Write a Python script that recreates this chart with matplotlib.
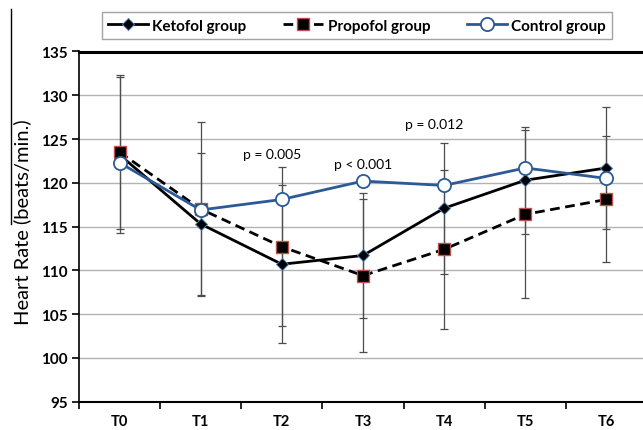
import numpy as np
import matplotlib
matplotlib.use('Agg')
from matplotlib import pyplot as plt
from matplotlib.lines import Line2D

plt.rcParams['font.family'] = ['Lato', 'DejaVu Sans']

# time points
times = ['T0', 'T1', 'T2', 'T3', 'T4', 'T5', 'T6']

# mean heart rate (beats/min.)
ketofol = [123.2, 115.3, 110.7, 111.7, 117.1, 120.3, 121.7]
propofol = [123.5, 117.0, 112.7, 109.4, 112.4, 116.4, 118.1]
control = [122.3, 116.9, 118.1, 120.2, 119.7, 121.7, 120.5]

# standard deviations (error bars)
ketofol_sd = [8.9, 8.1, 9.0, 7.1, 7.5, 6.1, 7.0]
propofol_sd = [8.8, 9.9, 9.1, 8.7, 9.1, 9.6, 7.2]

# p-value notes: (x position as time index, y value, text)
p_notes = [(1.88, 123.3, 'p = 0.005'), (3.0, 122.1, 'p < 0.001'), (3.88, 126.7, 'p = 0.012')]

W, H = 643, 431
fig = plt.figure(figsize=(W / 100, H / 100), dpi=100)
# plot area in pixels: left 79, right 647 (runs past the edge), top 52.5, bottom 402.7
ax = fig.add_axes([79 / W, 1 - 402.7 / H, (647 - 79) / W, (402.7 - 52.5) / H])

x = np.arange(len(times))

# error bars first, under the lines
ax.errorbar(x, ketofol, yerr=ketofol_sd, fmt='none', ecolor='#4d4d4d',
            elinewidth=0.9, capsize=3, capthick=0.9, zorder=2)
ax.errorbar(x, propofol, yerr=propofol_sd, fmt='none', ecolor='#4d4d4d',
            elinewidth=0.9, capsize=3, capthick=0.9, zorder=2)

ax.plot(x, ketofol, color='black', lw=2, marker='D', markersize=6.5,
        markerfacecolor='black', markeredgecolor='#4a7ebb', markeredgewidth=0.7,
        label='Ketofol group', zorder=3)
ax.plot(x, propofol, color='black', lw=2, ls=(0, (3.5, 2)), marker='s', markersize=8,
        markerfacecolor='black', markeredgecolor='#c0504d', markeredgewidth=1,
        label='Propofol group', zorder=4)
ax.plot(x, control, color='#2c5a96', lw=2, marker='o', markersize=9.5,
        markerfacecolor='white', markeredgecolor='#2c5a96', markeredgewidth=1.3,
        label='Control group', zorder=5)

for xi, yi, txt in p_notes:
    ax.text(xi, yi, txt, fontsize=10, ha='center', va='center', color='black')

ax.set_xlim(-0.5, 6.5)
ax.set_ylim(95, 135)

# x axis: ticks at the category boundaries, labels at the centres
ax.set_xticks(np.arange(-0.5, 7, 1))
ax.set_xticklabels([])
ax.set_xticks(x, minor=True)
ax.set_xticklabels(times, minor=True, fontsize=10.5, fontweight='bold')
ax.tick_params(axis='x', which='major', direction='out', length=5, width=1.2)
ax.tick_params(axis='x', which='minor', length=0, pad=9)

ax.set_yticks(np.arange(95, 136, 5))
ax.set_yticklabels([str(v) for v in range(95, 136, 5)], fontsize=11, fontweight='bold')
ax.tick_params(axis='y', direction='out', length=5, width=1.2, pad=3)

ax.grid(axis='y', color='#b3b3b3', lw=1)
ax.set_axisbelow(True)

ax.spines['right'].set_visible(False)
ax.spines['top'].set_linewidth(2.2)
ax.spines['left'].set_linewidth(1.2)
ax.spines['bottom'].set_linewidth(1.5)

fig.text(22 / W, 1 - 222 / H, 'Heart Rate (beats/min.)', rotation=90,
         fontsize=14.5, ha='center', va='center')

lgd = fig.legend(loc='center', bbox_to_anchor=(357 / W, 1 - 26.5 / H), ncol=3,
                 prop={'weight': 'bold', 'size': 11}, frameon=True, fancybox=False,
                 edgecolor='#8c8c8c', handlelength=2.6, columnspacing=2.4,
                 handletextpad=0.3, borderpad=0.4)
lgd.get_frame().set_linewidth(1)

# thin rule at the far left of the picture
fig.add_artist(Line2D([11 / W, 11 / W], [1 - 10 / H, 1 - 225 / H], color='black', lw=1))

fig.savefig('out.png', dpi=100)
